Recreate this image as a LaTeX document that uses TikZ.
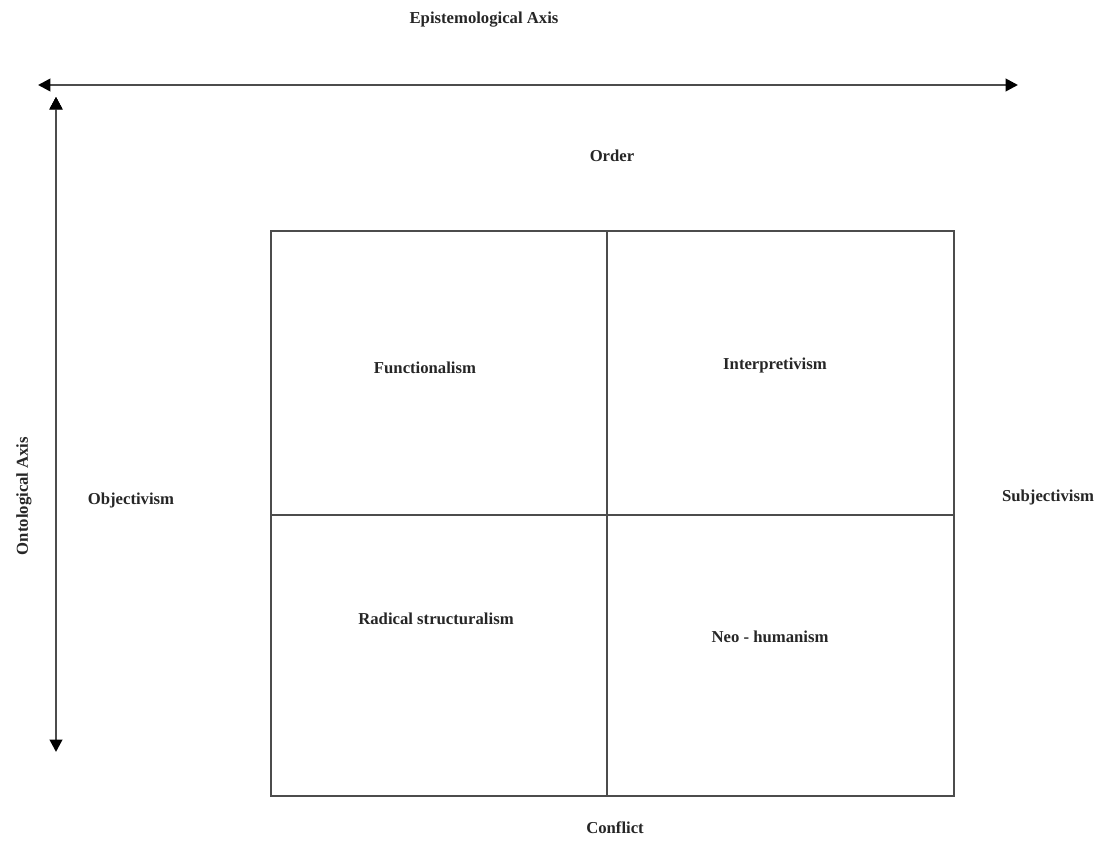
\documentclass[tikz,border=0pt]{standalone}
\usepackage{fontspec}
\setmainfont{Liberation Serif}
\usetikzlibrary{arrows.meta}
\begin{document}
\begin{tikzpicture}[x=0.02cm, y=-0.02cm,
        label/.style={font=\fontsize{9.5}{11}\selectfont\bfseries, text=black!85},
        axis/.style={draw=black!70, line width=1.5pt, {Triangle[length=7pt,width=7pt,fill=black,color=black]}-{Triangle[length=7pt,width=7pt,fill=black,color=black]}},
        grid/.style={draw=black!70, line width=1.5pt}]
    \useasboundingbox (0, 0) rectangle (1105, 868);

    \node[label] at (484, 20) (EA) {Epistemological Axis};
    \node[label, rotate=90] at (24, 496) (OA) {Ontological Axis};
    \node[label] at (612, 156) (O) {Order};
    \node[label] at (615, 828) (C) {Conflict};
    \node[label] at (131, 500) (Obj) {Objectivism};
    \node[label] at (1048, 497) (Subj) {Subjectivism};
    \node[label] at (425, 368) (F) {Functionalism};
    \node[label] at (775, 365) (I) {Interpretivism};
    \node[label] at (436, 619) (R) {Radical structuralism};
    \node[label] at (770, 637) (N) {Neo - humanism};

    \coordinate (HL) at (38, 85);
    \coordinate (HR) at (1018, 85);
    \coordinate (VT) at (56, 97);
    \coordinate (VB) at (56, 752);

    \coordinate (TL) at (271, 231);
    \coordinate (BR) at (954, 796);
    \coordinate (MT) at (607, 231);
    \coordinate (MB) at (607, 796);
    \coordinate (ML) at (271, 515);
    \coordinate (MR) at (954, 515);

    \path [axis]
        (HL) edge (HR)
        (VT) edge (VB);

    \draw [grid] (TL) rectangle (BR);
    \path [grid]
        (MT) edge (MB)
        (ML) edge (MR);
\end{tikzpicture}
\end{document}
